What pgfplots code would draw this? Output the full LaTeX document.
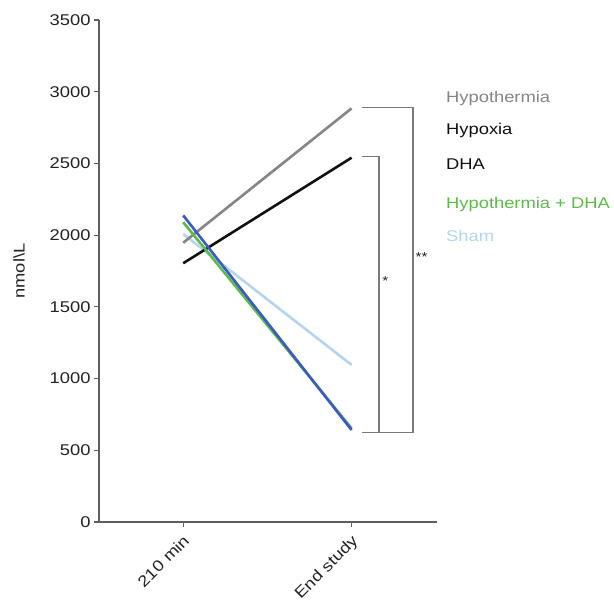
\documentclass[border=0pt]{standalone}
\usepackage{fontspec}
\setmainfont{Liberation Sans}[FakeStretch=1.18]
\usepackage{pgfplots}
\pgfplotsset{compat=1.18}
\definecolor{axgray}{HTML}{5E5E5E}
\definecolor{cgray}{HTML}{858585}
\definecolor{cblack}{HTML}{111111}
\definecolor{cblue}{HTML}{3A5BC4}
\definecolor{cgreen}{HTML}{5DBA4A}
\definecolor{csham}{HTML}{B4D4F0}
\definecolor{brgray}{HTML}{7A7A7A}
\definecolor{txt}{HTML}{222222}
\begin{document}
\begin{tikzpicture}[font=\fontsize{15.6}{18}\selectfont]
\begin{axis}[
  scale only axis, width=338bp, height=502bp,
  xmin=-0.5, xmax=1.507, ymin=0, ymax=3500,
  axis lines=left,
  axis line style={-, draw=axgray, line width=1.2bp},
  xtick={0,1}, xticklabels={210 min, End study},
  ytick={0,500,...,3500},
  tick align=outside, major tick length=5bp,
  tick style={axgray, line width=1.2bp},
  xticklabel style={xshift=-1bp, yshift=-4bp, rotate=45, anchor=north east, inner sep=2bp, text=txt},
  yticklabel style={text=txt, /pgf/number format/1000 sep={}},
  /pgf/number format/assume math mode=true,
  scaled y ticks=false,
  ylabel={nmol\textbackslash L},
  ylabel style={at={(axis description cs:-0.2367,0.5)}, anchor=center, text=txt},
  clip=false,
]
\addplot[csham, line width=2.6bp] coordinates {(0,2008) (1,1095)};
\addplot[cgray, line width=2.6bp] coordinates {(0,1947) (1,2884)};
\addplot[cblack, line width=2.6bp] coordinates {(0,1804) (1,2540)};
\addplot[cgreen, line width=2.6bp] coordinates {(0,2090) (1,653)};
\addplot[cblue, line width=2.6bp] coordinates {(0,2138) (1,641)};
\draw[brgray, line width=1.6bp] (axis cs:1.059,2889) -| (axis cs:1.366,625) -- (axis cs:1.059,625);
\draw[brgray, line width=1.6bp] (axis cs:1.059,2547) -| (axis cs:1.164,625);
\node[font=\fontsize{13}{14}\selectfont, text=txt] at (axis cs:1.2,1680) {*};
\node[font=\fontsize{13}{14}\selectfont, text=txt] at (axis cs:1.416,1847) {**};
\coordinate (bl) at (rel axis cs:0,0);
\end{axis}
\node[anchor=base west, text=cgray, inner sep=0] at ([shift={(347bp,419.7bp)}]bl) {Hypothermia};
\node[anchor=base west, text=cblack, inner sep=0] at ([shift={(347bp,387bp)}]bl) {Hypoxia};
\node[anchor=base west, text=cblack, inner sep=0] at ([shift={(347bp,352bp)}]bl) {DHA};
\node[anchor=base west, text=cgreen, inner sep=0] at ([shift={(347bp,313.7bp)}]bl) {Hypothermia + DHA};
\node[anchor=base west, text=csham, inner sep=0] at ([shift={(347bp,280.3bp)}]bl) {Sham};
\pgfresetboundingbox
\path (bl) ++(-99bp,-80bp) rectangle ++(614bp,602bp);
\end{tikzpicture}
\end{document}
